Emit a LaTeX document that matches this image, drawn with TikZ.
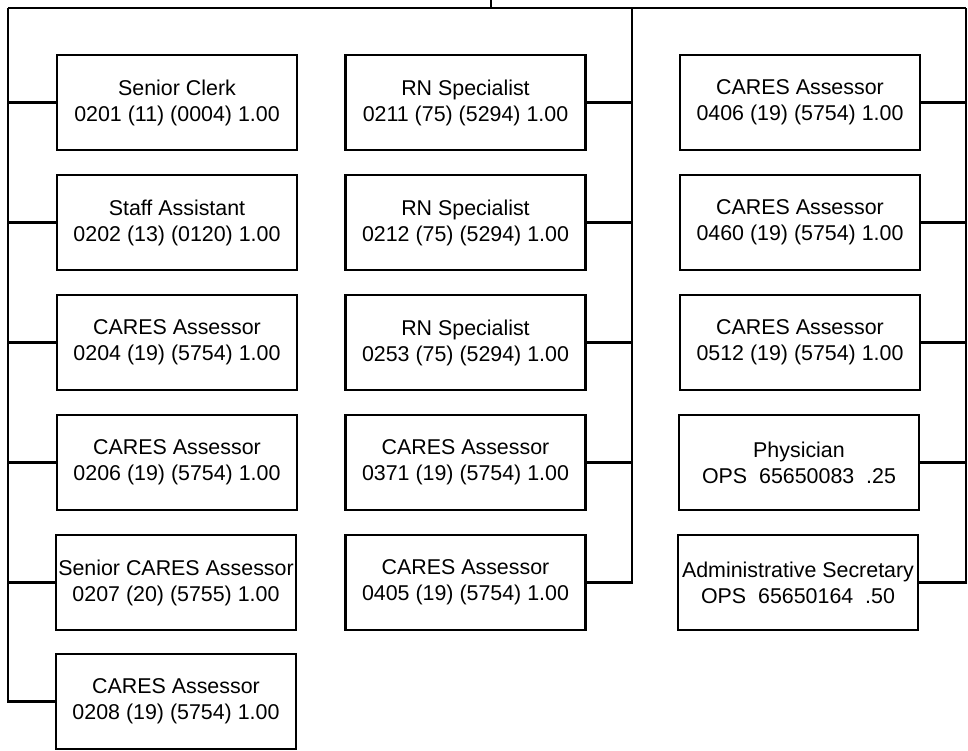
\documentclass[tikz,border=0pt]{standalone}
\usepackage{fontspec}
\setmainfont{Liberation Sans}
\begin{document}
\begin{tikzpicture}[x=1pt,y=-1pt,
  post/.style={draw, line width=2.4pt, minimum width=240pt, minimum height=95pt,
    inner sep=0pt, align=center, font=\fontsize{21.4}{26}\selectfont},
  wire/.style={line width=2.4pt}]
\useasboundingbox (0,0) rectangle (968,750);

% positions, left column
\node[post] (a1) at (177,102.5) {Senior Clerk\\0201 (11) (0004) 1.00};
\node[post] (a2) at (177,222.5) {Staff Assistant\\0202 (13) (0120) 1.00};
\node[post] (a3) at (177,342.5) {CARES Assessor\\0204 (19) (5754) 1.00};
\node[post] (a4) at (177,462.5) {CARES Assessor\\0206 (19) (5754) 1.00};
\node[post] (a5) at (176,582.5) {Senior CARES Assessor\\0207 (20) (5755) 1.00};
\node[post] (a6) at (176,701.5) {CARES Assessor\\0208 (19) (5754) 1.00};

% positions, middle column
\node[post] (b1) at (465.5,102.5) {RN Specialist\\0211 (75) (5294) 1.00};
\node[post] (b2) at (465.5,222.5) {RN Specialist\\0212 (75) (5294) 1.00};
\node[post] (b3) at (465.5,342.5) {RN Specialist\\0253 (75) (5294) 1.00};
\node[post] (b4) at (465.5,462.5) {CARES Assessor\\0371 (19) (5754) 1.00};
\node[post] (b5) at (465.5,582.5) {CARES Assessor\\0405 (19) (5754) 1.00};

% positions, right column
\node[post] (c1) at (800,102.5) {CARES Assessor\\0406 (19) (5754) 1.00};
\node[post] (c2) at (800,222.5) {CARES Assessor\\0460 (19) (5754) 1.00};
\node[post] (c3) at (800,342.5) {CARES Assessor\\0512 (19) (5754) 1.00};
\node[post] (c4) at (799,462.5) {Physician\\OPS\ \ 65650083\ \ .25};
\node[post] (c5) at (798,582.5) {Administrative Secretary\\OPS\ \ 65650164\ \ .50};

% spine points
\coordinate (root) at (491,0);
\coordinate (top) at (491,8);
\coordinate (L) at (8,8);
\coordinate (M) at (632,8);
\coordinate (R) at (966,8);

% trunk and bar
\draw[wire] (root) -- (top);
\draw[wire] (L) -- (R);

% left spine with branches
\draw[wire] (L) |- (a6.west);
\foreach \n in {a1,a2,a3,a4,a5} \draw[wire] (\n.west) -- (\n.west -| L);

% middle spine with branches
\draw[wire] (M) |- (b5.east);
\foreach \n in {b1,b2,b3,b4} \draw[wire] (\n.east) -- (\n.east -| M);

% right spine with branches
\draw[wire] (R) |- (c5.east);
\foreach \n in {c1,c2,c3,c4} \draw[wire] (\n.east) -- (\n.east -| R);
\end{tikzpicture}
\end{document}
